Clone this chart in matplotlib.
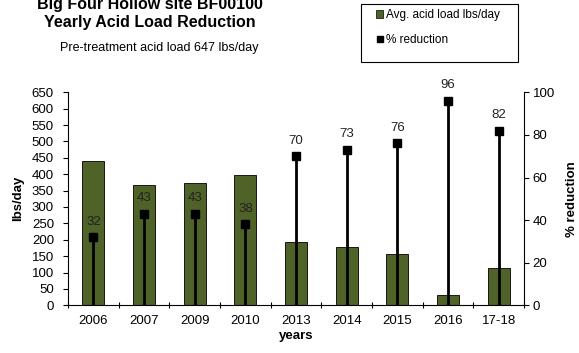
import numpy as np
import matplotlib.pyplot as plt
from matplotlib.lines import Line2D
from matplotlib.patches import Patch, Rectangle

plt.rcParams['font.family'] = ['Liberation Sans', 'DejaVu Sans']

years = ["2006", "2007", "2009", "2010", "2013", "2014", "2015", "2016", "17-18"]
acid_load = [440, 368, 372, 398, 193, 177, 157, 30, 114]
pct_reduction = [32, 43, 43, 38, 70, 73, 76, 96, 82]

FS = 9.5
W, H = 579, 353
fig = plt.figure(figsize=(5.79, 3.53), dpi=100)
ax = fig.add_axes([68 / W, 1 - 305.3 / H, (524 - 68) / W, 213 / H])
x = np.arange(len(years))

ax.bar(x, acid_load, width=0.44, color="#4f6228", edgecolor="black", linewidth=0.6, zorder=2)
ax.set_xlim(-0.5, len(years) - 0.5)
ax.set_ylim(0, 650)
ax.set_yticks(np.arange(0, 651, 50))
ax.set_xticks(x)
ax.set_xticklabels(years)
ax.set_xticks(np.arange(-0.5, len(years)), minor=True)
ax.tick_params(axis="x", which="major", length=0, pad=7, labelsize=FS)
ax.tick_params(axis="x", which="minor", length=4, direction="inout", width=0.8)
ax.tick_params(axis="y", length=3.6, width=0.8, labelsize=FS, pad=6.5)
for s in ["top", "right"]:
    ax.spines[s].set_visible(False)
ax.spines["left"].set_linewidth(0.8)
ax.spines["bottom"].set_linewidth(0.8)
ax.set_ylabel("lbs/day", fontweight="bold", fontsize=FS)
ax.yaxis.set_label_coords((24 - 68) / 456, 0.5)
ax.set_xlabel("years", fontweight="bold", fontsize=FS, labelpad=2)

ax2 = ax.twinx()
ax2.set_ylim(0, 100)
ax2.set_yticks(np.arange(0, 101, 20))
ax2.vlines(x, 0, pct_reduction, color="black", linewidth=2, zorder=3)
ax2.plot(x, pct_reduction, "s", color="black", markersize=6, zorder=4)
ax2.plot(x, [0] * len(x), "s", color="black", markersize=2, zorder=4)
for xi, v in zip(x, pct_reduction):
    ax2.text(xi, v + 4.5, str(v), ha="center", va="bottom", fontsize=FS, color="#222222")
for s in ["top", "left", "bottom"]:
    ax2.spines[s].set_visible(False)
ax2.spines["right"].set_linewidth(0.8)
ax2.tick_params(axis="y", length=3.6, width=0.8, labelsize=FS, pad=2.5)
ax2.set_ylabel("% reduction", fontweight="bold", fontsize=FS)
ax2.yaxis.set_label_coords((566 - 68) / 456, 0.5)

fig.text(150 / W, 1 - 4 / H, "Big Four Hollow site BF00100", ha="center", va="center",
         fontsize=11.5, fontweight="bold")
fig.text(150 / W, 1 - 22 / H, "Yearly Acid Load Reduction", ha="center", va="center",
         fontsize=11.5, fontweight="bold")
fig.text(159 / W, 1 - 48 / H, "Pre-treatment acid load 647 lbs/day", ha="center", va="center",
         fontsize=9)

# legend box drawn separately to match its wide frame
fig.patches.append(Rectangle((361 / W, 1 - 62 / H), (518 - 361) / W, 58 / H,
                             transform=fig.transFigure, facecolor="white",
                             edgecolor="black", linewidth=0.8, zorder=5))
handles = [Patch(facecolor="#4f6228", edgecolor="black", linewidth=0.5),
           Line2D([], [], marker="s", color="black", linestyle="none", markersize=5)]
leg = fig.legend(handles, ["Avg. acid load lbs/day", "% reduction"],
                 loc="upper left", bbox_to_anchor=(374 / W, 1 - 7 / H),
                 fontsize=8.5, frameon=False,
                 handlelength=0.6, handleheight=0.6, handletextpad=0.2,
                 labelspacing=1.1, borderpad=0.2, borderaxespad=0)
leg.set_zorder(6)

fig.savefig("out.png", dpi=100)
